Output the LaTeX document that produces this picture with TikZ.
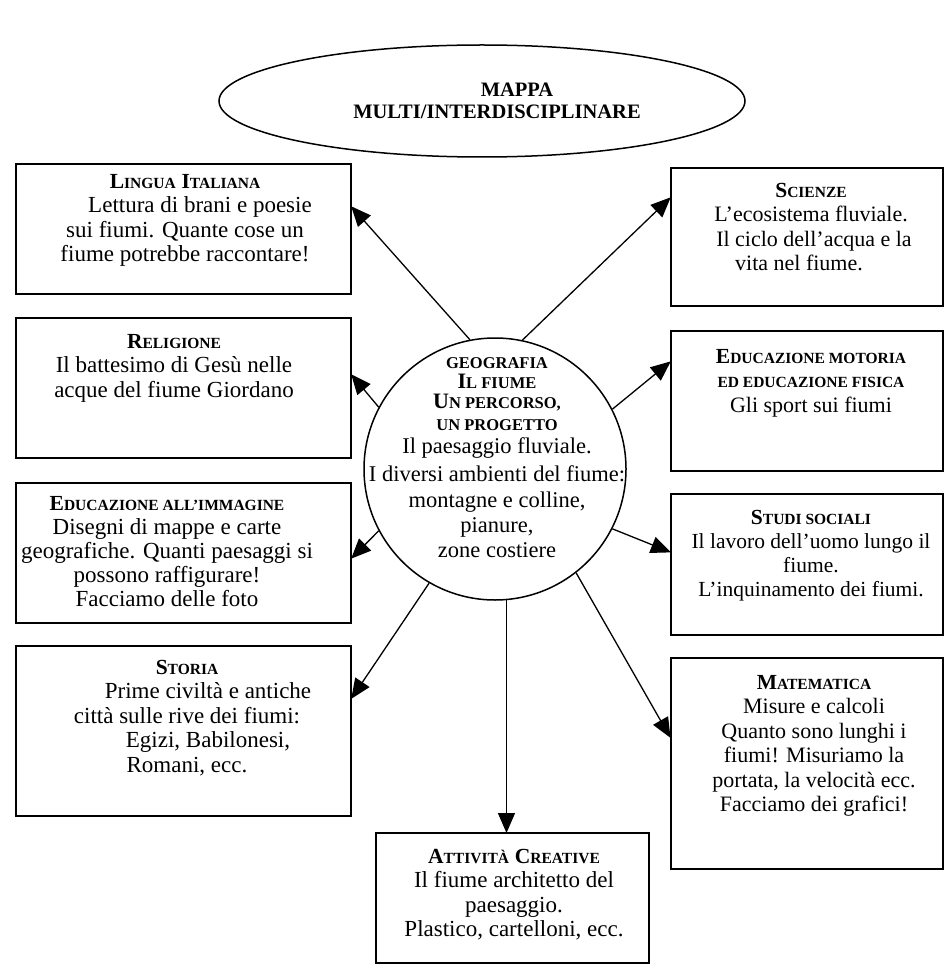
\documentclass[tikz,border=0pt]{standalone}
\usepackage{fontspec}
\setmainfont{Liberation Serif}
\usetikzlibrary{arrows.meta,shapes.geometric}
\newcommand\hs[2]{{\bfseries\fontsize{21.5}{24.5}\selectfont #1}{\bfseries\fontsize{15.5}{24.5}\selectfont #2}}
\newcommand\sm[1]{{\bfseries\fontsize{15.5}{24.5}\selectfont #1}}
\newcommand\cs[2]{{\bfseries\fontsize{22}{20}\selectfont #1}{\bfseries\fontsize{16.5}{20}\selectfont #2}}
\newcommand\csm[1]{{\bfseries\fontsize{16.5}{20}\selectfont #1}}
\newcommand\fl{\rule{0pt}{14pt}}
\tikzset{
  x=1pt, y=-1pt,
  boxn/.style={draw, line width=1.8pt, anchor=north west, inner sep=0pt},
  txt/.style={anchor=north, align=center, inner sep=0pt, font=\fontsize{22}{24.5}\selectfont},
  big/.style={font=\fontsize{23}{24.5}\selectfont},
  arr/.style={line width=1.3pt, -{Triangle[length=20pt,width=17pt]}, shorten >=-1pt},
}
\begin{document}
\begin{tikzpicture}
\useasboundingbox (0,0) rectangle (945,968);
% ellipse
\node[draw, ellipse, line width=1.5pt, minimum width=526pt, minimum height=112pt, inner sep=0pt] (ell) at (482,101) {};
\node[align=center, inner sep=0pt, font=\bfseries\fontsize{20.5}{22.5}\selectfont] (ellT) at (497,101) {\hspace*{40pt}MAPPA\\MULTI/INTERDISCIPLINARE};
% boxes
\node[boxn, minimum width=335pt, minimum height=130pt] (lingua) at (15,163) {};
\node[boxn, minimum width=335pt, minimum height=140pt] (relig) at (15,317) {};
\node[boxn, minimum width=335pt, minimum height=140pt] (immag) at (15,482) {};
\node[boxn, minimum width=335pt, minimum height=170pt] (storia) at (15,645) {};
\node[boxn, minimum width=272pt, minimum height=138pt] (scienze) at (670,167) {};
\node[boxn, minimum width=272pt, minimum height=140pt] (motoria) at (670,330) {};
\node[boxn, minimum width=272pt, minimum height=141pt] (studi) at (670,493) {};
\node[boxn, minimum width=272pt, minimum height=211pt] (mate) at (670,657) {};
\node[boxn, minimum width=273pt, minimum height=130pt] (attiv) at (375,832) {};
% circle
\node[draw, circle, line width=1.5pt, minimum size=262pt, inner sep=0pt] (geo) at (495,469) {};
% texts
\node[txt, big] (linguaT) at (185,174) {\fl\hs{L}{INGUA} \hs{I}{TALIANA}\\\hspace*{30pt}Lettura di brani e poesie\\sui fiumi. Quante cose un\\fiume potrebbe raccontare!};
\node[txt, big] (religT) at (174,334) {\fl\hs{R}{ELIGIONE}\\Il battesimo di Gesù nelle\\acque del fiume Giordano};
\node[txt, big, font=\fontsize{23}{24}\selectfont] (immagT) at (167,496) {\fl\hs{E}{DUCAZIONE ALL’IMMAGINE}\\Disegni di mappe e carte\\geografiche. Quanti paesaggi si\\possono raffigurare!\\Facciamo delle foto};
\node[txt, big] (storiaT) at (187,660) {\fl\hs{S}{TORIA}\\\hspace*{42pt}Prime civiltà e antiche\\città sulle rive dei fiumi:\\\hspace*{42pt}Egizi, Babilonesi,\\Romani, ecc.};
\node[txt] (scienzeT) at (811,183) {\fl\hs{S}{CIENZE}\\L’ecosistema fluviale.\\\hspace*{6pt}Il ciclo dell’acqua e la\\vita nel fiume.\hspace*{24pt}};
\node[txt] (motoriaT) at (811,349) {\fl\hs{E}{DUCAZIONE MOTORIA}\\\sm{ED EDUCAZIONE FISICA}\\Gli sport sui fiumi};
\node[txt, font=\fontsize{21.5}{24}\selectfont] (studiT) at (811,510) {\fl\hs{S}{TUDI SOCIALI}\\Il lavoro dell’uomo lungo il\\fiume.\\L’inquinamento dei fiumi.};
\node[txt] (mateT) at (814,675) {\fl\hs{M}{ATEMATICA}\\Misure e calcoli\\Quanto sono lunghi i\\fiumi! Misuriamo la\\portata, la velocità ecc.\\Facciamo dei grafici!};
\node[txt, big] (attivT) at (514,849) {\fl\hs{A}{TTIVITÀ} \hs{C}{REATIVE}\\Il fiume architetto del\\paesaggio.\\Plastico, cartelloni, ecc.};
\node[txt, font=\fontsize{22.5}{20}\selectfont] (geoT) at (497,354) {\fl\csm{GEOGRAFIA}\\\cs{I}{L FIUME}\\\cs{U}{N PERCORSO,}\\[2pt]\csm{UN PROGETTO}\\[3pt]Il paesaggio fluviale.\\[6.5pt]I diversi ambienti del fiume:\\[6.5pt]montagne e colline,\\[5pt]pianure,\\[5pt]zone costiere};
% connectors
\draw[arr] (geo.101) -- ([yshift=-44pt]lingua.north east);
\draw[arr] (geo.78) -- ([yshift=-31pt]scienze.north west);
\draw[arr] (geo.152) -- ([yshift=-58pt]relig.north east);
\draw[arr] (geo.27) -- ([yshift=-32pt]motoria.north west);
\draw[arr] (geo.208) -- ([yshift=-76pt]immag.north east);
\draw[arr] (geo.333) -- ([yshift=-59pt]studi.north west);
\draw[arr] (geo.240) -- ([yshift=-53pt]storia.north east);
\draw[arr] (geo.308) -- ([yshift=-80pt]mate.north west);
\draw[arr] (geo.275) -- (geo.275 |- attiv.north);
\end{tikzpicture}
\end{document}
